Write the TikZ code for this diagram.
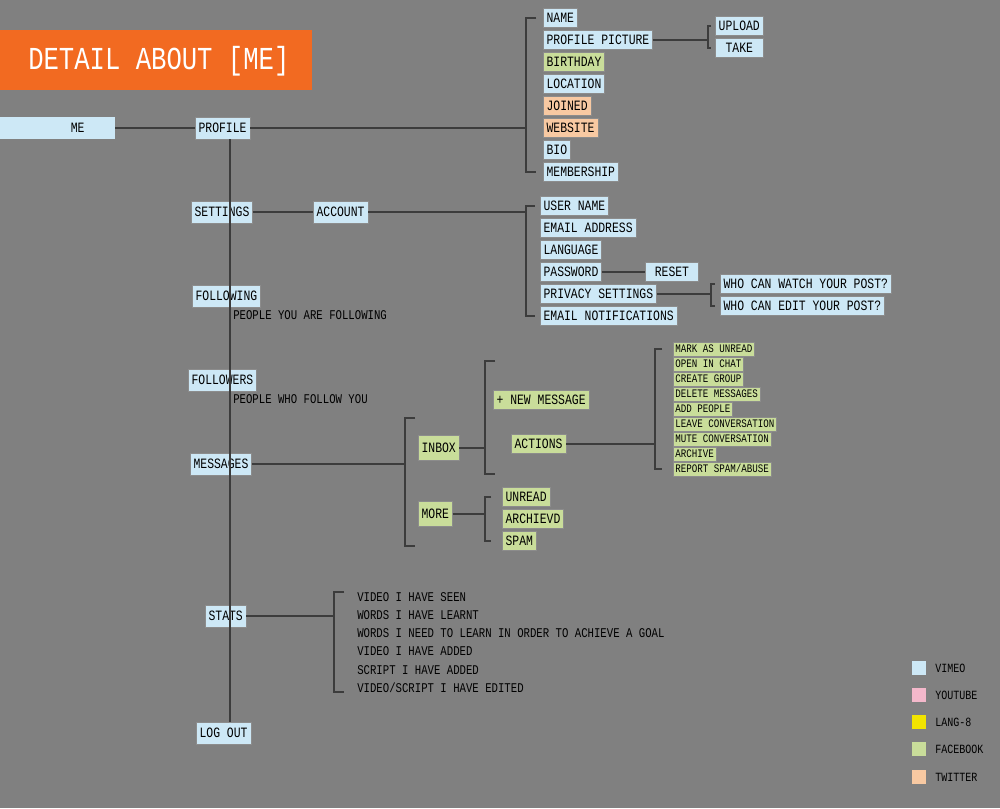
\documentclass[tikz,border=0pt]{standalone}
\usepackage{fontspec}
\setmainfont[FakeStretch=0.8]{Liberation Mono}
\definecolor{bg}{HTML}{808080}
\definecolor{vimeo}{HTML}{CDE8F6}
\definecolor{youtube}{HTML}{F4B8CB}
\definecolor{lang}{HTML}{F2E400}
\definecolor{fb}{HTML}{C9DD9A}
\definecolor{tw}{HTML}{F8C9A2}
\definecolor{ttl}{HTML}{F26A21}
\definecolor{ln}{HTML}{3C3C3C}
\tikzset{
  box/.style={anchor=west, inner xsep=2.5pt, inner ysep=0pt, minimum height=14.5pt, text height=7pt, font=\fontsize{10.7}{11}\selectfont, draw=black!45, line width=0.4pt},
  sbox/.style={box, minimum height=10.5pt, text height=5.5pt, inner xsep=1.5pt, font=\fontsize{8.6}{9}\selectfont},
  plain/.style={anchor=west, inner sep=0pt, font=\fontsize{10}{11}\selectfont},
  conn/.style={ln, line width=0.8pt}
}
\begin{document}
\begin{tikzpicture}[x=0.75pt,y=-0.75pt]
    \fill[bg] (0,0) rectangle (1000,808);
    \useasboundingbox (0,0) rectangle (1000,808);

    % title
    \fill[ttl] (0,30) rectangle (312,90);
    \node[anchor=west, inner sep=0pt, text=white, font=\fontsize{24}{25}\selectfont] (title) at (28,61) {DETAIL ABOUT [ME]};

    % trunk
    \coordinate (trunk) at (230,0);
    \node[box, fill=vimeo, minimum width=86pt, minimum height=17pt, draw=none] (me) at (0,128) {\hspace{30pt}ME};
    \node[box, fill=vimeo, minimum height=16.5pt] (profile) at (195,128) {PROFILE};
    \node[box, fill=vimeo, minimum height=16.5pt] (settings) at (191,212) {SETTINGS};
    \node[box, fill=vimeo, minimum height=16.5pt] (following) at (192,296) {FOLLOWING};
    \node[plain] (followingtxt) at (233,315) {PEOPLE YOU ARE FOLLOWING};
    \node[box, fill=vimeo, minimum height=16.5pt] (followers) at (188,380) {FOLLOWERS};
    \node[plain] (followerstxt) at (233,399) {PEOPLE WHO FOLLOW YOU};
    \node[box, fill=vimeo, minimum height=16.5pt] (messages) at (190,464) {MESSAGES};
    \node[box, fill=vimeo, minimum height=16.5pt] (stats) at (205,616) {STATS};
    \node[box, fill=vimeo, minimum height=16.5pt] (logout) at (196,733) {LOG OUT};
    \draw[conn] (me) -- (profile);
    \draw[conn] (profile.south -| trunk) -- (logout.north -| trunk);

    % profile
    \foreach \name/\txt/\col/\y in {name/NAME/vimeo/18, picture/PROFILE PICTURE/vimeo/40, birthday/BIRTHDAY/fb/62, location/LOCATION/vimeo/84, joined/JOINED/tw/106, website/WEBSITE/tw/128, bio/BIO/vimeo/150, membership/MEMBERSHIP/vimeo/172}
        \node[box, fill=\col] (\name) at (543,\y) {\txt};
    \draw[conn] (profile) -- (526,128);
    \draw[conn] ([xshift=-5]name.west) -| (526,128) |- ([xshift=-5]membership.west);
    \node[box, fill=vimeo, minimum width=36pt] (upload) at (715,26) {UPLOAD};
    \node[box, fill=vimeo, minimum width=36pt] (take) at (715,48) {TAKE};
    \draw[conn] (picture) -- (708,40);
    \draw[conn] ([xshift=-3]upload.west) -| (708,40) |- ([xshift=-3]take.west);

    % settings
    \node[box, fill=vimeo, minimum height=16.5pt] (account) at (313,212) {ACCOUNT};
    \draw[conn] (settings) -- (account);
    \foreach \name/\txt/\y in {username/USER NAME/206, email/EMAIL ADDRESS/228, language/LANGUAGE/250, password/PASSWORD/272, privacy/PRIVACY SETTINGS/294, notif/EMAIL NOTIFICATIONS/316}
        \node[box, fill=vimeo] (\name) at (540,\y) {\txt};
    \draw[conn] (account) -- (526,212);
    \draw[conn] ([xshift=-4]username.west) -| (526,212) |- ([xshift=-4]notif.west);
    \node[box, fill=vimeo, minimum width=40pt] (reset) at (645,272) {RESET};
    \draw[conn] (password) -- (reset);
    \node[box, fill=vimeo] (watch) at (720,284) {WHO CAN WATCH YOUR POST?};
    \node[box, fill=vimeo] (edit) at (720,306) {WHO CAN EDIT YOUR POST?};
    \draw[conn] (privacy) -- (711,294);
    \draw[conn] ([xshift=-4]watch.west) -| (711,294) |- ([xshift=-4]edit.west);

    % messages
    \node[box, fill=fb, minimum height=19pt] (inbox) at (418,448) {INBOX};
    \node[box, fill=fb, minimum height=19pt] (more) at (418,514) {MORE};
    \draw[conn] (messages) -- (405,464);
    \draw[conn] (415,418) -- (405,418) -- (405,546) -- (415,546);
    \node[box, fill=fb] (newmsg) at (493,400) {+ NEW MESSAGE};
    \node[box, fill=fb] (actions) at (511,444) {ACTIONS};
    \draw[conn] (inbox) -- (485,448);
    \draw[conn] (495,361) -- (485,361) -- (485,474) -- (495,474);
    \foreach \name/\txt/\y in {a1/MARK AS UNREAD/349, a2/OPEN IN CHAT/364, a3/CREATE GROUP/379, a4/DELETE MESSAGES/394, a5/ADD PEOPLE/409, a6/LEAVE CONVERSATION/424, a7/MUTE CONVERSATION/439, a8/ARCHIVE/454, a9/{REPORT SPAM/ABUSE}/469}
        \node[sbox, fill=fb] (\name) at (673,\y) {\txt};
    \draw[conn] (actions) -- (655,444);
    \draw[conn] ([xshift=-8]a1.west) -| (655,444) |- ([xshift=-8]a9.west);
    \foreach \name/\txt/\y in {unread/UNREAD/497, archived/ARCHIEVD/519, spam/SPAM/541}
        \node[box, fill=fb] (\name) at (502,\y) {\txt};
    \draw[conn] (more) -- (485,514);
    \draw[conn] ([xshift=-8]unread.west) -| (485,514) |- ([xshift=-8]spam.west);

    % stats
    \foreach \name/\txt/\y in {s1/VIDEO I HAVE SEEN/597, s2/WORDS I HAVE LEARNT/615, s3/WORDS I NEED TO LEARN IN ORDER TO ACHIEVE A GOAL/633, s4/VIDEO I HAVE ADDED/651, s5/SCRIPT I HAVE ADDED/670, s6/{VIDEO/SCRIPT I HAVE EDITED}/688}
        \node[plain] (\name) at (357,\y) {\txt};
    \draw[conn] (stats) -- (334,616);
    \draw[conn] (344,592) -- (334,592) -- (334,692) -- (344,692);

    % legend
    \foreach \col/\txt/\y in {vimeo/VIMEO/668, youtube/YOUTUBE/695, lang/LANG-8/722, fb/FACEBOOK/749, tw/TWITTER/777} {
        \fill[\col] (912,\y-7) rectangle (926,\y+7);
        \node[plain, font=\fontsize{9.4}{10}\selectfont] at (935,\y) {\txt};
    }
\end{tikzpicture}
\end{document}
